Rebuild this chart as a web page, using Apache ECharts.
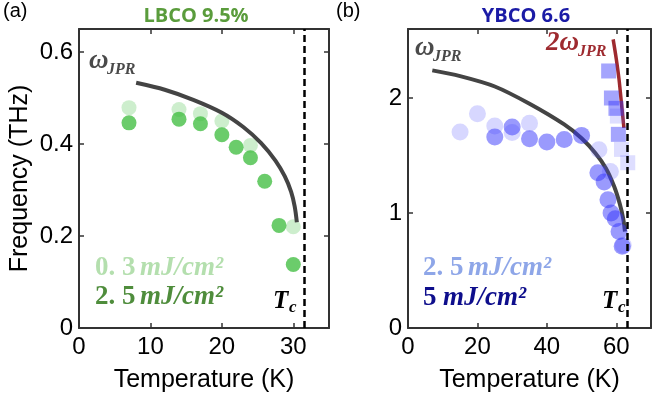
<!DOCTYPE html>
<html><head><meta charset="utf-8">
<script src="https://cdn.jsdelivr.net/npm/echarts@6/dist/echarts.min.js"></script>
<style>html,body{margin:0;padding:0;background:#fff}#c{width:654px;height:405px}</style>
</head><body><div id="c"></div>
<script>
// ---- LBCO 9.5% (panel a) ----
const lbcoTc = 31.5;
const lbcoLowT = [7, 14, 17, 20, 24, 30];
const lbcoLowF = [0.479, 0.475, 0.466, 0.450, 0.397, 0.22];
const lbcoHighT = [7, 14, 17, 20, 22, 24, 26, 28, 30];
const lbcoHighF = [0.446, 0.454, 0.444, 0.42, 0.393, 0.370, 0.319, 0.223, 0.138];
const lbcoJprT = [8, 12, 16, 20, 23, 25.5, 27.5, 28.8, 29.7, 30.2, 30.5];
const lbcoJprF = [0.533, 0.518, 0.496, 0.468, 0.437, 0.402, 0.364, 0.330, 0.296, 0.264, 0.23];
const lbcoXTicks = [0, 10, 20, 30];
const lbcoYTicks = [0, 0.2, 0.4, 0.6];

// ---- YBCO 6.6 (panel b) ----
const ybcoTc = 63.2;
const ybcoLowT = [15, 20, 25, 30, 35, 55, 58.3, 62];
const ybcoLowF = [1.704, 1.864, 1.756, 1.70, 1.78, 1.55, 1.36, 0.72];
const ybcoHighT = [25, 30, 35, 40, 45, 50, 54.7, 56.5, 57.6, 58.5, 59.7, 60.8, 61.7];
const ybcoHighF = [1.66, 1.747, 1.646, 1.617, 1.64, 1.675, 1.35, 1.27, 1.115, 1.0, 0.95, 0.84, 0.71];
const ybcoSqHighT = [57.8, 58.6, 59.9, 60.6];
const ybcoSqHighF = [2.235, 2.0, 1.91, 1.684];
const ybcoSqLowT = [60.3, 61.5, 63.3];
const ybcoSqLowF = [1.843, 1.553, 1.437];
const ybcoJprT = [7, 15, 25, 35, 45, 50, 54, 57, 59.4, 61, 62, 62.5];
const ybcoJprF = [2.24, 2.19, 2.10, 1.95, 1.77, 1.65, 1.52, 1.39, 1.23, 1.08, 0.95, 0.84];
const ybco2JprT = [59.1, 60.0, 60.8, 61.5, 62.2];
const ybco2JprF = [2.51, 2.34, 2.16, 1.95, 1.74];
const ybcoXTicks = [0, 20, 40, 60];
const ybcoYTicks = [0, 1, 2];

const zip = (a, b) => a.map((v, i) => [v, b[i]]);

const chart = echarts.init(document.getElementById('c'));
const AX = '#333';
const sans = 'Liberation Sans, Arial, sans-serif';
const serif = 'Liberation Serif, DejaVu Serif, serif';
function xAx(gi, pos, min, max, iv, ticks, name) {
  return {
    gridIndex: gi, type: 'value', position: pos, min: min, max: max, interval: iv,
    name: name || '', nameLocation: 'middle', nameGap: 40,
    nameTextStyle: { fontFamily: sans, fontSize: 25, color: '#000' },
    axisLine: { show: true, onZero: false, lineStyle: { color: AX, width: 2 } },
    axisTick: { show: true, inside: true, length: 5, lineStyle: { color: AX, width: 1.5 } },
    axisLabel: { show: pos === 'bottom', fontFamily: sans, fontSize: 24, color: '#000', margin: 7,
      formatter: v => ticks.indexOf(v) >= 0 ? String(v) : '' },
    splitLine: { show: false }
  };
}
function yAx(gi, pos, min, max, iv, ticks, name) {
  return {
    gridIndex: gi, type: 'value', position: pos, min: min, max: max, interval: iv,
    name: name || '', nameLocation: 'middle', nameGap: 46,
    nameTextStyle: { fontFamily: sans, fontSize: 25, color: '#000' },
    axisLine: { show: true, onZero: false, lineStyle: { color: AX, width: 2 } },
    axisTick: { show: true, inside: true, length: 5, lineStyle: { color: AX, width: 1.5 } },
    axisLabel: { show: pos === 'left', fontFamily: sans, fontSize: 24, color: '#000', margin: 6,
      formatter: v => ticks.some(t => Math.abs(t - v) < 1e-9) ? String(v) : '' },
    splitLine: { show: false }
  };
}
const dash = (tc) => ({
  symbol: 'none', silent: true, label: { show: false },
  lineStyle: { color: '#000', type: [7, 4], width: 2.5 },
  data: [{ xAxis: tc }]
});

function txt(text, x, y, size, color, opts) {
  return {
    type: 'text', x: x, y: y, z: 100,
    style: Object.assign({ text: text, fontSize: size, fill: color, fontFamily: serif,
      fontWeight: 'bold', fontStyle: 'italic', textVerticalAlign: 'middle' }, (opts || {}))
  };
}
const up = { fontStyle: 'normal' };

chart.setOption({
  animation: false,
  backgroundColor: '#fff',
  grid: [
    { left: 79, top: 29, width: 250, height: 299 },
    { left: 408, top: 29, width: 250, height: 299 }
  ],
  xAxis: [
    xAx(0, 'bottom', 0, 35, 10, lbcoXTicks, 'Temperature (K)'),
    xAx(0, 'top', 0, 35, 10, lbcoXTicks),
    xAx(1, 'bottom', 0, 70, 20, ybcoXTicks, 'Temperature (K)'),
    xAx(1, 'top', 0, 70, 20, ybcoXTicks)
  ],
  yAxis: [
    yAx(0, 'left', 0, 0.65, 0.2, lbcoYTicks, 'Frequency (THz)'),
    yAx(0, 'right', 0, 0.65, 0.2, lbcoYTicks),
    yAx(1, 'left', 0, 2.6, 1, ybcoYTicks),
    yAx(1, 'right', 0, 2.6, 1, ybcoYTicks)
  ],
  series: [
    { type: 'scatter', xAxisIndex: 0, yAxisIndex: 0, z: 2, symbolSize: 15,
      itemStyle: { color: 'rgba(61,189,61,0.32)' }, data: zip(lbcoLowT, lbcoLowF) },
    { type: 'scatter', xAxisIndex: 0, yAxisIndex: 0, z: 3, symbolSize: 15,
      itemStyle: { color: 'rgba(60,188,60,0.95)' }, data: zip(lbcoHighT, lbcoHighF) },
    { type: 'line', xAxisIndex: 0, yAxisIndex: 0, z: 4, smooth: 0.3, symbol: 'none',
      lineStyle: { color: '#444', width: 4 }, data: zip(lbcoJprT, lbcoJprF),
      markLine: dash(lbcoTc) },

    { type: 'line', xAxisIndex: 2, yAxisIndex: 2, z: 2, smooth: 0.3, symbol: 'none',
      lineStyle: { color: '#444', width: 4 }, data: zip(ybcoJprT, ybcoJprF),
      markLine: dash(ybcoTc) },
    { type: 'line', xAxisIndex: 2, yAxisIndex: 2, z: 2, smooth: 0.3, symbol: 'none',
      lineStyle: { color: '#9e2a2f', width: 3.5 }, data: zip(ybco2JprT, ybco2JprF) },
    { type: 'scatter', xAxisIndex: 2, yAxisIndex: 2, z: 3, symbolSize: 17,
      itemStyle: { color: 'rgba(90,90,255,0.3)' }, data: zip(ybcoLowT, ybcoLowF) },
    { type: 'scatter', xAxisIndex: 2, yAxisIndex: 2, z: 4, symbolSize: 17,
      itemStyle: { color: 'rgba(50,50,250,0.62)' }, data: zip(ybcoHighT, ybcoHighF) },
    { type: 'scatter', xAxisIndex: 2, yAxisIndex: 2, z: 3, symbol: 'rect', symbolSize: 15,
      itemStyle: { color: 'rgba(90,90,255,0.25)' }, data: zip(ybcoSqLowT, ybcoSqLowF) },
    { type: 'scatter', xAxisIndex: 2, yAxisIndex: 2, z: 4, symbol: 'rect', symbolSize: 15,
      itemStyle: { color: 'rgba(50,50,250,0.55)' }, data: zip(ybcoSqHighT, ybcoSqHighF) }
  ],
  graphic: [
    txt('(a)', 3, 11, 20, '#000', { fontFamily: sans, fontWeight: 'normal', fontStyle: 'normal' }),
    txt('(b)', 336, 11, 20, '#000', { fontFamily: sans, fontWeight: 'normal', fontStyle: 'normal' }),
    txt('LBCO 9.5%', 196, 16, 20, '#5a9c3c', { fontFamily: 'Open Sans, sans-serif', fontStyle: 'normal', textAlign: 'center' }),
    txt('YBCO 6.6', 526, 16, 20, '#1b1ba6', { fontFamily: 'Open Sans, sans-serif', fontStyle: 'normal', textAlign: 'center' }),

    txt('ω', 89, 61, 27, '#4a4a4a'),
    txt('JPR', 107, 70, 16, '#4a4a4a'),
    txt('ω', 415, 48, 27, '#4a4a4a'),
    txt('JPR', 433, 57, 16, '#4a4a4a'),
    txt('2ω', 546, 43, 27, '#9e2a2f'),
    txt('JPR', 578, 52, 16, '#9e2a2f'),

    txt('0. 3', 95, 268, 27, '#b4dfae', up),
    txt('mJ/cm²', 140, 268, 27, '#b4dfae'),
    txt('2. 5', 95, 297, 27, '#4f8d3c', up),
    txt('mJ/cm²', 140, 297, 27, '#4f8d3c'),
    txt('2. 5', 423, 268, 27, '#8ea6e8', up),
    txt('mJ/cm²', 468, 268, 27, '#8ea6e8'),
    txt('5', 423, 298, 27, '#0e0e8c', up),
    txt('mJ/cm²', 443, 298, 27, '#0e0e8c'),

    txt('T', 273, 302, 25, '#000'),
    txt('c', 289, 308, 17, '#000'),
    txt('T', 602, 302, 25, '#000'),
    txt('c', 618, 308, 17, '#000')
  ]
});
</script>
</body></html>
